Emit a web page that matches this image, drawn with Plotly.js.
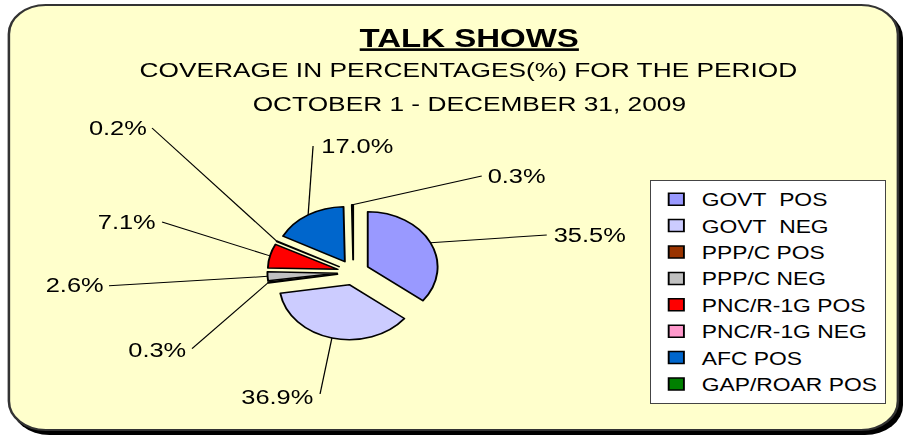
<!DOCTYPE html>
<html><head><meta charset="utf-8">
<script src="https://cdn.plot.ly/plotly-3.0.1.min.js"></script>
<style>
html,body{margin:0;padding:0;background:#fff;}
#wrap{position:relative;width:903px;height:436px;overflow:hidden;background:#fff;}
#scaler{position:absolute;left:0;top:0;width:711px;height:436px;transform:scaleX(1.27004);transform-origin:0 0;}
#panel{position:absolute;left:5.5px;top:4px;width:702px;height:427px;background:#FFFFCC;border:2px solid #333;border-radius:30px;box-shadow:3px 4px 0 #000;box-sizing:border-box;}
#chart{position:absolute;left:0;top:0;width:711px;height:436px;}
</style></head>
<body>
<div id="wrap"><div id="scaler"><div id="panel"></div><div id="chart"></div></div></div>
<script>
// ---- data ----
const categories = ['GOVT\u00a0 POS','GOVT\u00a0 NEG','PPP/C POS','PPP/C NEG','PNC/R-1G POS','PNC/R-1G NEG','AFC POS','GAP/ROAR POS'];
const percentages = [35.5, 36.9, 0.3, 2.6, 7.1, 0.2, 17.0, 0.3];
const titleText = 'TALK SHOWS';
const subtitleLines = ['COVERAGE IN PERCENTAGES(%) FOR THE PERIOD', 'OCTOBER 1 - DECEMBER 31, 2009'];

// ---- styles / layout positions ----
const sliceColors = ['#9999FF','#CCCCFF','#993300','#C0C0C0','#FF0000','#FF99CC','#0066CC','#008000'];
const W = 711, H = 436;
const FONT = 'Liberation Sans, Arial, Helvetica, sans-serif';
const pieDomain = {x:[0.2961,0.4864], y:[0.2200,0.5304]};
const pull = 0.23;
// label centre positions (px) and leader-line anchor points (px), unscaled space
const labelPos = [[464.6,235],[218.1,396.7],[123.6,350],[59.1,285],[100.4,221.7],[92.9,127.5],[281.8,146.2],[407.3,176]];
const leaderAnchor = [[430.5,235],[252,394],[151.2,348.7],[85.8,285.7],[127.6,222],[119.7,128],[246.5,146],[379.3,176]];

const cx = W*(pieDomain.x[0]+pieDomain.x[1])/2;
const cy = H*(1-(pieDomain.y[0]+pieDomain.y[1])/2);
const r = Math.min(W*(pieDomain.x[1]-pieDomain.x[0]), H*(pieDomain.y[1]-pieDomain.y[0]))/2/(1+pull);
const total = percentages.reduce((a,b)=>a+b,0);

const shapes = [];
const annotations = [];
let cum = 0;
percentages.forEach((v,i)=>{
  const mid = (cum + v/2)/total*2*Math.PI;
  cum += v;
  const px = cx + Math.sin(mid)*r*(1+pull);
  const py = cy - Math.cos(mid)*r*(1+pull);
  shapes.push({type:'line', xref:'paper', yref:'paper', x0:px/W, y0:1-py/H,
    x1:leaderAnchor[i][0]/W, y1:1-leaderAnchor[i][1]/H, line:{color:'#000', width:1}});
  annotations.push({xref:'paper', yref:'paper', x:labelPos[i][0]/W, y:1-labelPos[i][1]/H,
    text:v.toFixed(1)+'%', showarrow:false, xanchor:'center', yanchor:'middle',
    font:{family:FONT, size:20, color:'#000'}});
});
annotations.push({xref:'paper', yref:'paper', x:0.5196, y:1-69.8/H, text:subtitleLines[0], showarrow:false,
  xanchor:'center', yanchor:'middle', font:{family:FONT, size:20.7, color:'#000'}});
annotations.push({xref:'paper', yref:'paper', x:0.5196, y:1-103.5/H, text:subtitleLines[1], showarrow:false,
  xanchor:'center', yanchor:'middle', font:{family:FONT, size:20.7, color:'#000'}});

const trace = {
  type:'pie', labels:categories, values:percentages, sort:false, direction:'clockwise', rotation:0,
  pull:pull, textinfo:'none', hoverinfo:'none', domain:pieDomain,
  marker:{colors:sliceColors, line:{color:'#000', width:1.5}}
};

const layout = {
  width:W, height:H, margin:{l:0,r:0,t:0,b:0},
  paper_bgcolor:'rgba(0,0,0,0)', plot_bgcolor:'rgba(0,0,0,0)',
  title:{text:'<b><u>'+titleText+'</u></b>', x:0.5196, xanchor:'center', y:1-37.5/H, yanchor:'middle',
    yref:'container', xref:'container', font:{family:FONT, size:26, color:'#000'}},
  showlegend:true,
  legend:{x:511.5/W, xanchor:'left', y:1-180/H, yanchor:'top', bgcolor:'#FFFFFF', bordercolor:'#444',
    borderwidth:1, font:{family:FONT, size:18, color:'#000'}, traceorder:'normal'},
  shapes:shapes, annotations:annotations
};

Plotly.newPlot('chart', [trace], layout, {displayModeBar:false, staticPlot:true});
</script>
</body></html>
